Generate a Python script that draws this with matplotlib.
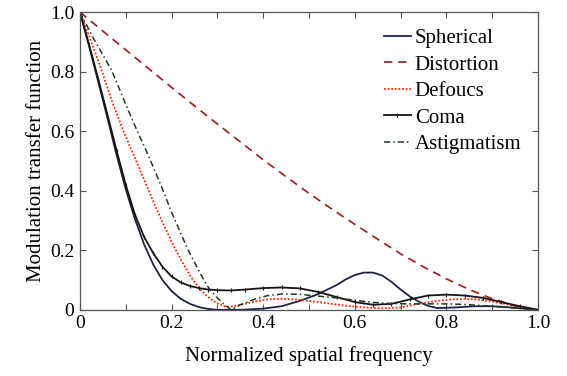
import matplotlib
matplotlib.use("Agg")
import matplotlib.pyplot as plt
from matplotlib.ticker import MultipleLocator, FixedLocator

plt.rcParams["font.family"] = ["Liberation Serif", "DejaVu Serif"]

# values
dist_x = [0, 0.05, 0.1, 0.15, 0.2, 0.25, 0.3, 0.35, 0.4, 0.45, 0.5,
          0.55, 0.6, 0.65, 0.7, 0.75, 0.8, 0.85, 0.9, 0.95, 1.0]
dist_y = [1.0, 0.936, 0.873, 0.810, 0.747, 0.685, 0.624, 0.564, 0.504, 0.447, 0.391,
          0.338, 0.287, 0.237, 0.188, 0.144, 0.104, 0.068, 0.037, 0.013, 0.0]

sph_x = [0, 0.02, 0.04, 0.06, 0.08, 0.10, 0.12, 0.14, 0.16, 0.18, 0.20, 0.22, 0.24,
         0.26, 0.28, 0.30, 0.35, 0.40, 0.44, 0.48, 0.52, 0.56, 0.58, 0.60, 0.62, 0.64,
         0.66, 0.68, 0.70, 0.72, 0.74, 0.76, 0.78, 0.82, 0.86, 0.90, 0.94, 0.97, 1.0]
sph_y = [1.0, 0.885, 0.765, 0.645, 0.52, 0.405, 0.305, 0.22, 0.152, 0.10, 0.063, 0.037, 0.020,
         0.009, 0.003, 0.0, 0.0, 0.004, 0.012, 0.03, 0.053, 0.083, 0.102, 0.117, 0.125, 0.125,
         0.115, 0.094, 0.068, 0.045, 0.027, 0.013, 0.006, 0.008, 0.012, 0.012, 0.008, 0.004, 0.0]

defo_x = [0, 0.02, 0.047, 0.07, 0.094, 0.12, 0.146, 0.171, 0.19, 0.207, 0.227, 0.247,
          0.262, 0.277, 0.29, 0.305, 0.32, 0.335, 0.36, 0.38, 0.41, 0.44, 0.47, 0.50,
          0.54, 0.58, 0.62, 0.66, 0.70, 0.74, 0.78, 0.82, 0.86, 0.90, 0.94, 0.97, 1.0]
defo_y = [1.0, 0.92, 0.805, 0.70, 0.604, 0.51, 0.415, 0.325, 0.262, 0.207, 0.15, 0.10,
          0.07, 0.046, 0.031, 0.018, 0.01, 0.012, 0.02, 0.027, 0.035, 0.037, 0.035, 0.03,
          0.022, 0.014, 0.008, 0.005, 0.008, 0.02, 0.03, 0.036, 0.036, 0.028, 0.016, 0.007, 0.0]

coma_x = [0, 0.02, 0.04, 0.06, 0.08, 0.10, 0.12, 0.14, 0.16, 0.18, 0.20, 0.22, 0.24,
          0.26, 0.28, 0.30, 0.33, 0.36, 0.40, 0.44, 0.48, 0.52, 0.56, 0.60, 0.64,
          0.68, 0.72, 0.76, 0.80, 0.84, 0.88, 0.92, 0.96, 1.0]
coma_y = [1.0, 0.89, 0.775, 0.655, 0.535, 0.42, 0.32, 0.245, 0.19, 0.145, 0.112, 0.092, 0.08,
          0.073, 0.068, 0.066, 0.065, 0.068, 0.073, 0.075, 0.072, 0.060, 0.043, 0.026, 0.017,
          0.02, 0.035, 0.048, 0.051, 0.048, 0.040, 0.026, 0.012, 0.0]

astig_x = [0, 0.03, 0.069, 0.10, 0.124, 0.146, 0.175, 0.204, 0.236, 0.26, 0.273, 0.284,
           0.30, 0.315, 0.33, 0.35, 0.38, 0.41, 0.44, 0.48, 0.52, 0.56, 0.60, 0.64,
           0.68, 0.72, 0.76, 0.80, 0.84, 0.88, 0.92, 0.96, 1.0]
astig_y = [1.0, 0.91, 0.805, 0.69, 0.604, 0.53, 0.425, 0.313, 0.201, 0.13, 0.093, 0.067,
           0.04, 0.018, 0.0, 0.017, 0.035, 0.048, 0.053, 0.052, 0.046, 0.04, 0.032, 0.025,
           0.021, 0.02, 0.02, 0.02, 0.018, 0.014, 0.01, 0.005, 0.0]

fig = plt.figure(figsize=(5.67, 3.76), dpi=100)
ax = fig.add_axes([0.141, 0.176, 0.808, 0.792])

ax.plot(sph_x, sph_y, color="#1c2445", lw=1.3, label="Spherical")
ax.plot(dist_x, dist_y, color="#a01a1a", lw=1.2, ls=(0, (5, 3.5)), label="Distortion")
ax.plot(defo_x, defo_y, color="#ff2a00", lw=1.3, ls=(0, (1, 1)), label="Defoucs")
ax.plot(coma_x, coma_y, color="#151515", lw=1.3, marker="|", ms=3, mew=0.8,
        label="Coma")
ax.plot(astig_x, astig_y, color="#1e3a1e", lw=1.1, ls=(0, (4, 2, 1, 2)),
        label="Astigmatism")

ax.set_xlim(0, 1)
ax.set_ylim(0, 1)
ax.xaxis.set_major_locator(FixedLocator([0, 0.2, 0.4, 0.6, 0.8, 1.0]))
ax.xaxis.set_minor_locator(MultipleLocator(0.1))
ax.yaxis.set_major_locator(FixedLocator([0, 0.2, 0.4, 0.6, 0.8, 1.0]))
ax.set_xticklabels(["0", "0.2", "0.4", "0.6", "0.8", "1.0"])
ax.set_yticklabels(["0", "0.2", "0.4", "0.6", "0.8", "1.0"])
ax.tick_params(which="both", direction="in", top=True, right=True,
               length=4, width=0.8, color="#555", labelsize=14, pad=4)
ax.tick_params(which="minor", length=4)
for spine in ax.spines.values():
    spine.set_color("#555")
    spine.set_linewidth(0.9)

ax.set_xlabel("Normalized spatial frequency", fontsize=15, labelpad=10)
ax.set_ylabel("Modulation transfer function", fontsize=15, labelpad=3)

ax.legend(loc="upper right", frameon=False, fontsize=15, handlelength=1.3,
          handletextpad=0.2, labelspacing=0.33, borderaxespad=0.4)

fig.savefig("out.png", dpi=100)
